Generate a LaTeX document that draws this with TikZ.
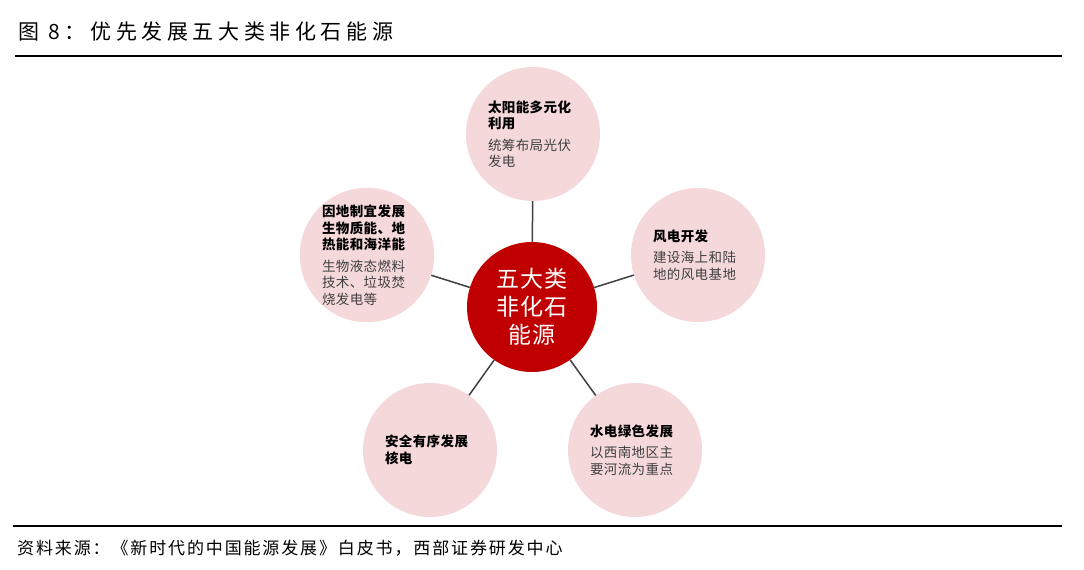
\documentclass[tikz,border=0pt]{standalone}
\usepackage{fontspec}
\setmainfont{Noto Sans CJK SC}
\definecolor{hubred}{HTML}{C00000}
\definecolor{petal}{HTML}{F5D8D9}
\definecolor{bodygray}{HTML}{404040}
\definecolor{linegray}{HTML}{404040}
\begin{document}
\begin{tikzpicture}[x=1pt,y=-1pt,
  outer/.style={circle,fill=petal,minimum size=134pt,inner sep=0pt,text width=90pt,align=left,text=bodygray,font=\fontsize{13.5}{16.5}\selectfont\addfontfeatures{LetterSpace=3}},
  hub/.style={circle,fill=hubred,minimum size=130pt,inner sep=0pt,align=center,text=white,font=\fontsize{23}{28}\selectfont\addfontfeatures{LetterSpace=3}},
  conn/.style={draw=linegray,line width=1.5pt},
  rulebar/.style={line width=2pt,black}]
\useasboundingbox (0,0) rectangle (1084,570);
\fill[white] (0,0) rectangle (1084,570);
\node[anchor=west,inner sep=0pt,font=\fontsize{21}{24}\selectfont\addfontfeatures{LetterSpace=22}] (title) at (18,32) {图 8：优先发展五大类非化石能源};
\coordinate (r1a) at (15,56);
\coordinate (r1b) at (1062,56);
\draw[rulebar] (r1a) -- (r1b);
\coordinate (r2a) at (13,526);
\coordinate (r2b) at (1062,526);
\draw[rulebar] (r2a) -- (r2b);
\node[anchor=west,inner sep=0pt,font=\fontsize{17}{20}\selectfont\addfontfeatures{LetterSpace=11}] (source) at (17,548) {资料来源：《新时代的中国能源发展》白皮书，西部证券研发中心};

\node[hub] (hub) at (532,307) {五大类\\非化石\\能源};
\node[outer] (solar) at (533,134) {\textcolor{black}{\bfseries 太阳能多元化}\\\textcolor{black}{\bfseries 利用}\\[5pt]统筹布局光伏\\发电};
\node[outer] (bio) at (367,255) {\textcolor{black}{\bfseries 因地制宜发展}\\\textcolor{black}{\bfseries 生物质能、地}\\\textcolor{black}{\bfseries 热能和海洋能}\\[5pt]生物液态燃料\\技术、垃圾焚\\烧发电等};
\node[outer] (wind) at (698,255) {\textcolor{black}{\bfseries 风电开发}\\[5pt]建设海上和陆\\地的风电基地};
\node[outer] (nuclear) at (430,450) {\textcolor{black}{\bfseries 安全有序发展}\\\textcolor{black}{\bfseries 核电}};
\node[outer] (hydro) at (635,450) {\textcolor{black}{\bfseries 水电绿色发展}\\[5pt]以西南地区主\\要河流为重点};

\draw[conn] (hub) -- (solar);
\draw[conn] (hub) -- (bio);
\draw[conn] (hub) -- (wind);
\draw[conn] (hub) -- (nuclear);
\draw[conn] (hub) -- (hydro);
\end{tikzpicture}
\end{document}
